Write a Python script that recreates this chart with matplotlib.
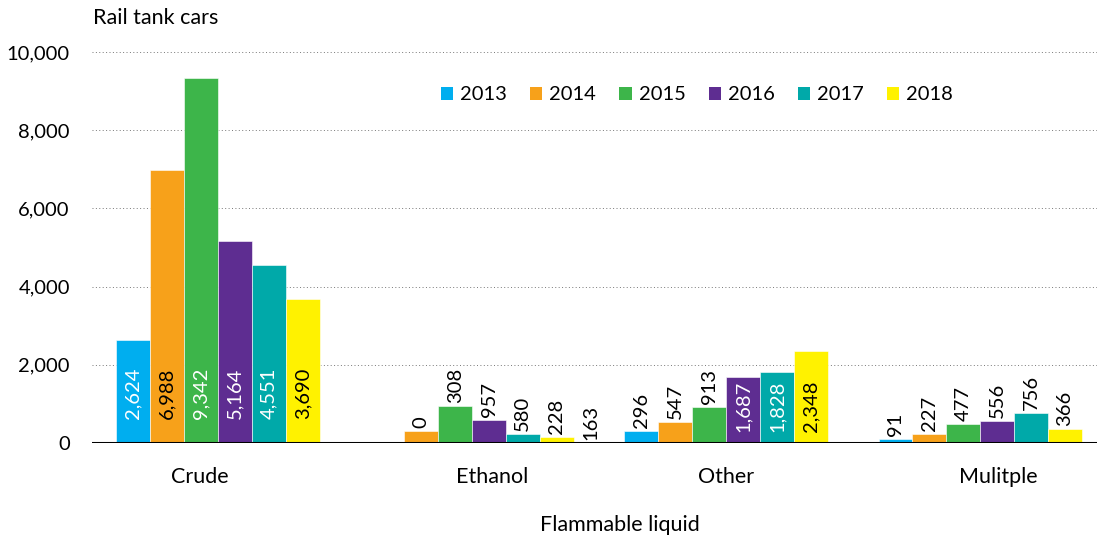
import matplotlib
matplotlib.use("Agg")
import matplotlib.pyplot as plt
from matplotlib.patches import Patch
import numpy as np

plt.rcParams['font.family'] = ['Lato', 'DejaVu Sans']

categories = ["Crude", "Ethanol", "Other", "Mulitple"]
years = ["2013", "2014", "2015", "2016", "2017", "2018"]
values = {
    "2013": [2624, 0, 296, 91],
    "2014": [6988, 308, 547, 227],
    "2015": [9342, 957, 913, 477],
    "2016": [5164, 580, 1687, 556],
    "2017": [4551, 228, 1828, 756],
    "2018": [3690, 163, 2348, 366],
}
colors = ["#00AEEF", "#F7A11A", "#3DB54A", "#5E2D91", "#00A9A9", "#FFF200"]
inside_text = ["white", "black", "white", "white", "white", "black"]
y_ticks = [0, 2000, 4000, 6000, 8000, 10000]

NUM_FS = 14.5
WORD_FS = 15.5

fig = plt.figure(figsize=(10.97, 5.40), dpi=100)
ax = fig.add_axes([0.0839, 0.1796, 0.9161, 0.7241])

n = len(years)
width = 0.8 / n
x = np.arange(len(categories))
offsets = (np.arange(n) - (n - 1) / 2) * width

for j, yr in enumerate(years):
    ax.bar(x + offsets[j], values[yr], width=width, color=colors[j],
           edgecolor="white", linewidth=0.4, zorder=3)

# value labels: big values sit inside the bar near its base, small ones above
inside_base = [24, 0, 11, 0]   # pixels above the baseline for inside labels
label_shift = [0, 1, 0, 0]     # slots the labels are shifted to the right
for i, cat in enumerate(categories):
    vals = [values[yr][i] for yr in years]
    for j, v in enumerate(vals):
        slot = j + label_shift[i]
        xpos = x[i] - (n - 1) / 2 * width + slot * width
        txt = f"{v:,}"
        if v >= 1000:
            ax.annotate(txt, (xpos, 0), xytext=(0, inside_base[i]),
                        textcoords="offset pixels", rotation=90,
                        ha="center", va="bottom", fontsize=NUM_FS,
                        color=inside_text[j], zorder=4)
        else:
            h = vals[slot] if slot < n else 0
            ax.annotate(txt, (xpos, h), xytext=(0, 3),
                        textcoords="offset pixels", rotation=90,
                        ha="center", va="bottom", fontsize=NUM_FS,
                        color="black", zorder=4)

ax.set_ylim(0, 10000)
ax.set_xlim(-0.496, 3.46)
ax.set_yticks(y_ticks)
ax.set_yticklabels([f"{t:,}" for t in y_ticks], fontsize=NUM_FS)
ax.tick_params(axis="y", length=0, pad=16)
ax.tick_params(axis="x", length=0, pad=0)
ax.set_xticks([])

label_nudge = [-0.07, 0.08, 0.0, 0.07]
for i, cat in enumerate(categories):
    ax.text(x[i] + label_nudge[i], -880, cat, ha="center", va="center",
            fontsize=WORD_FS, clip_on=False)

for t in y_ticks[1:]:
    ax.axhline(t, color="#777777", linestyle=(0, (1, 2.5)), linewidth=0.7,
               zorder=1)
ax.axhline(0, color="black", linewidth=2.2, zorder=5)

for s in ax.spines.values():
    s.set_visible(False)

fig.text(93 / 1097, 1 - 18 / 540, "Rail tank cars", ha="left", va="center",
         fontsize=WORD_FS)
fig.text(620 / 1097, 1 - 525 / 540, "Flammable liquid", ha="center",
         va="center", fontsize=WORD_FS)

handles = [Patch(facecolor=c, edgecolor="none") for c in colors]
fig.legend(handles, years, loc="center", bbox_to_anchor=(697 / 1097, 1 - 95 / 540),
           ncol=6, frameon=False, fontsize=NUM_FS, handlelength=0.6,
           handleheight=0.6, handletextpad=0.35, columnspacing=1.15,
           borderpad=0)

fig.savefig("out.png", dpi=100, facecolor="white")
